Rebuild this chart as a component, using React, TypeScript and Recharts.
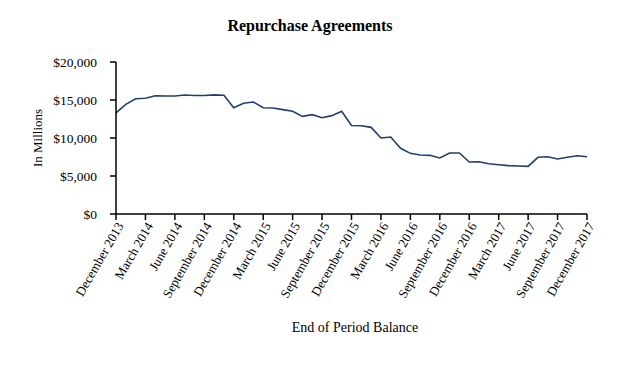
import React from 'react';
import { LineChart, Line, XAxis, YAxis, Label } from 'recharts';

const months: string[] = [
  'December 2013', 'January 2014', 'February 2014', 'March 2014', 'April 2014', 'May 2014', 'June 2014',
  'July 2014', 'August 2014', 'September 2014', 'October 2014', 'November 2014', 'December 2014',
  'January 2015', 'February 2015', 'March 2015', 'April 2015', 'May 2015', 'June 2015',
  'July 2015', 'August 2015', 'September 2015', 'October 2015', 'November 2015', 'December 2015',
  'January 2016', 'February 2016', 'March 2016', 'April 2016', 'May 2016', 'June 2016',
  'July 2016', 'August 2016', 'September 2016', 'October 2016', 'November 2016', 'December 2016',
  'January 2017', 'February 2017', 'March 2017', 'April 2017', 'May 2017', 'June 2017',
  'July 2017', 'August 2017', 'September 2017', 'October 2017', 'November 2017', 'December 2017',
];

const balances: number[] = [
  13300, 14430, 15170, 15220, 15550, 15530, 15530, 15650, 15590, 15590, 15680, 15620, 13990,
  14570, 14740, 13990, 13950, 13730, 13510, 12850, 13070, 12670, 12940, 13510, 11650,
  11620, 11400, 10000, 10130, 8640, 7980, 7760, 7720, 7370, 8030, 8030, 6840,
  6880, 6620, 6490, 6360, 6320, 6270, 7460, 7540, 7240, 7460, 7670, 7540,
];

const yTicks: number[] = [0, 5000, 10000, 15000, 20000];

const data = months.map((m, i) => ({ month: m, value: balances[i] }));

const FONT = '"Liberation Serif", "Times New Roman", serif';

const fmt = (v: number) => '$' + v.toLocaleString('en-US');

export default function App() {
  return (
    <div style={{ position: 'absolute', left: 0, top: 0, width: 620, height: 365, background: '#fff' }}>
      <LineChart
        width={620}
        height={365}
        data={data}
        margin={{ top: 62, right: 33, left: 0, bottom: 0 }}
        style={{ fontFamily: FONT }}
      >
        <text x={310} y={31} textAnchor="middle" fontFamily={FONT} fontWeight="bold" fontSize={16} fill="#000">
          Repurchase Agreements
        </text>
        <XAxis
          dataKey="month"
          interval={2}
          height={151}
          angle={-60}
          textAnchor="end"
          tickSize={6}
          tickMargin={1}
          stroke="#000"
          strokeWidth={1.5}
          tick={{ fill: '#000', fontSize: 13, fontFamily: FONT }}
        >
          <Label
            content={() => (
              <text x={355} y={332} textAnchor="middle" fontFamily={FONT} fontSize={14} fill="#000">
                End of Period Balance
              </text>
            )}
          />
        </XAxis>
        <YAxis
          width={116}
          domain={[0, 20000]}
          ticks={yTicks}
          tickFormatter={fmt}
          tickSize={6}
          tickMargin={13}
          stroke="#000"
          strokeWidth={1.5}
          tick={{ fill: '#000', fontSize: 13.5, fontFamily: FONT }}
        >
          <Label
            content={() => (
              <text
                x={42}
                y={138}
                textAnchor="middle"
                fontFamily={FONT}
                fontSize={13}
                fill="#000"
                transform="rotate(-90, 42, 138)"
              >
                In Millions
              </text>
            )}
          />
        </YAxis>
        <Line
          type="linear"
          dataKey="value"
          stroke="#1F3F6E"
          strokeWidth={1.6}
          dot={false}
          isAnimationActive={false}
        />
      </LineChart>
    </div>
  );
}
